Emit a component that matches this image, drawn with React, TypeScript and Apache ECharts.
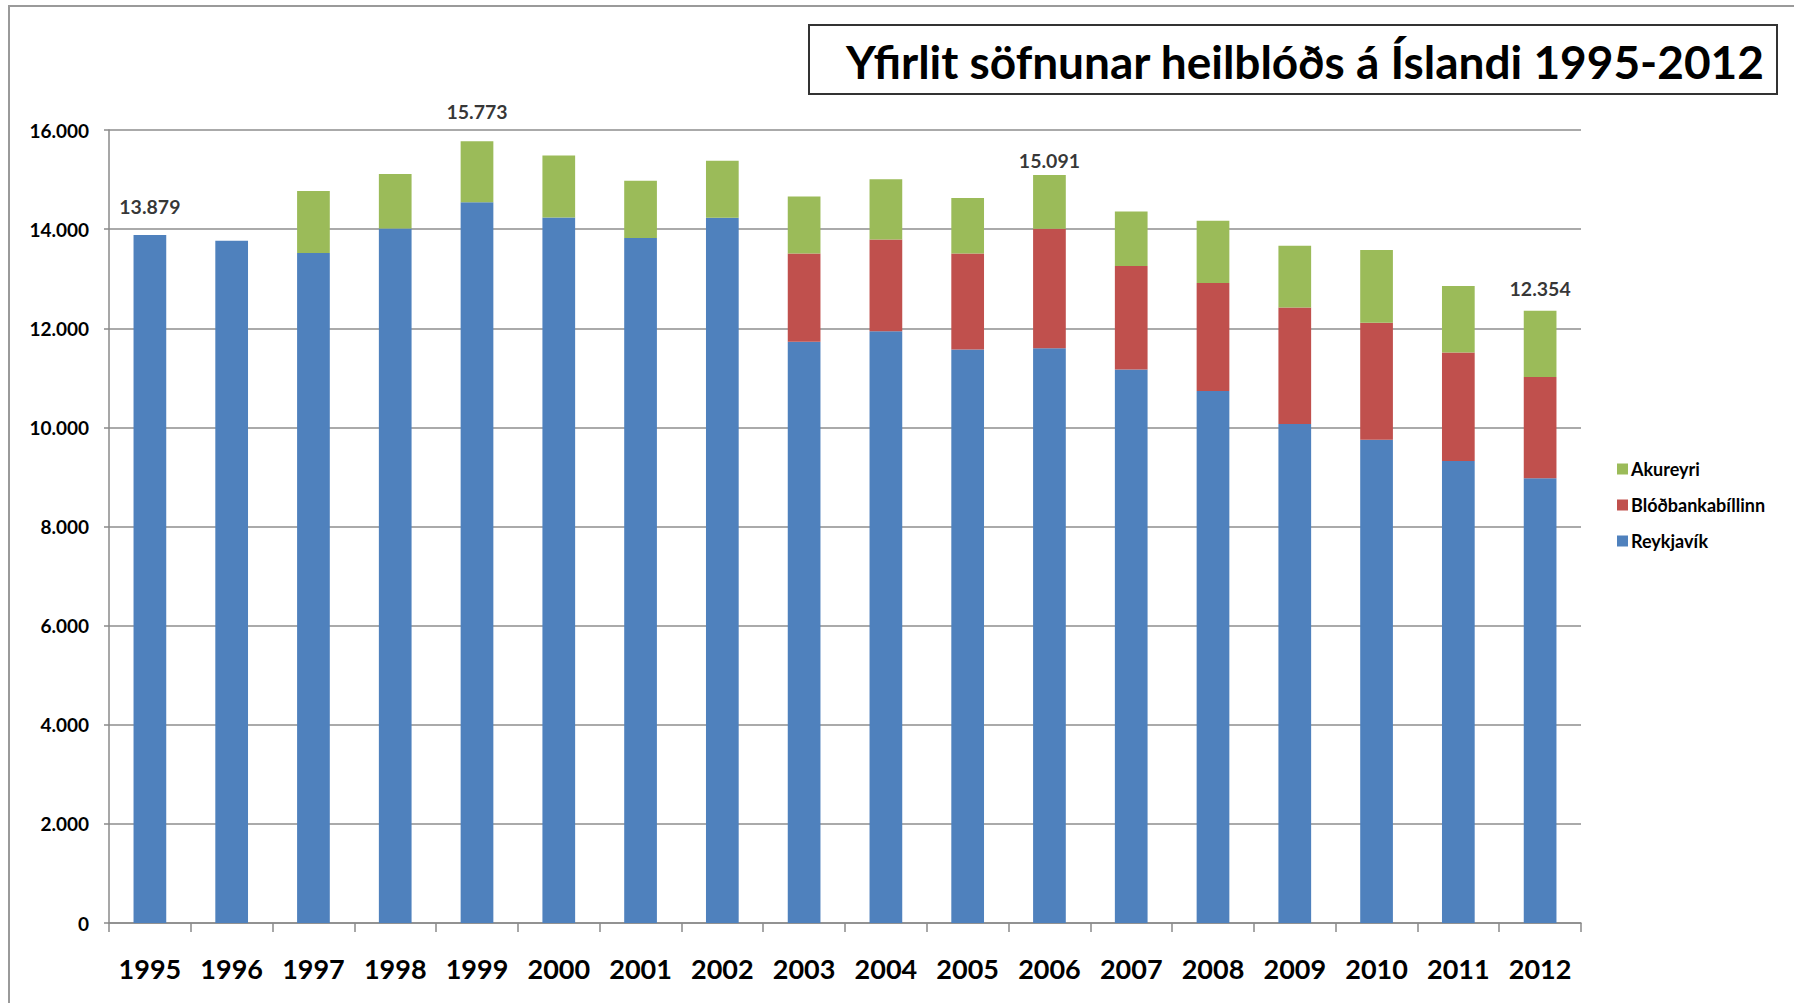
import React, { useEffect, useRef } from "react";
import * as echarts from "echarts";

const years = ["1995","1996","1997","1998","1999","2000","2001","2002","2003","2004","2005","2006","2007","2008","2009","2010","2011","2012"];
const reykjavik = [13879,13765,13517,14015,14544,14235,13819,14228,11726,11940,11571,11597,11169,10732,10068,9752,9324,8973];
const bloodbus = [0,0,0,0,0,0,0,0,1783,1851,1938,2409,2086,2181,2349,2357,2187,2041];
const akureyri = [0,0,1254,1098,1229,1248,1159,1153,1147,1216,1121,1085,1099,1254,1247,1468,1342,1340];
const labeledTotals = [13879,null,null,null,15773,null,null,null,null,null,null,15091,null,null,null,null,null,12354];
const labelDistances = [19,0,0,0,20,0,0,0,0,0,0,5,0,0,0,0,0,12];
const titleText = "Yfirlit söfnunar heilblóðs á Íslandi 1995-2012";
const FONT = "Lato, 'Open Sans', sans-serif";

const fmt = (v: number) => {
  const s = Math.round(v).toString();
  return s.replace(/\B(?=(\d{3})+(?!\d))/g, ".");
};

export default function App() {
  const ref = useRef<HTMLDivElement>(null);
  useEffect(() => {
    const chart = echarts.init(ref.current!, null, { renderer: "svg" });
    const totalsData = labeledTotals.map((v, i) =>
      v == null ? null : { value: v, label: { distance: labelDistances[i] } }
    );
    chart.setOption({
      animation: false,
      backgroundColor: "#fff",
      textStyle: { fontFamily: FONT },
      graphic: [
        {
          type: "rect",
          shape: { x: 9, y: 6, width: 1800, height: 1010 },
          style: { fill: "none", stroke: "#9a9a9a", lineWidth: 2 },
          silent: true,
        },
        {
          type: "rect",
          shape: { x: 809, y: 25, width: 968, height: 69 },
          style: { fill: "#fff", stroke: "#333", lineWidth: 2 },
          silent: true,
        },
        {
          type: "text",
          x: 1305,
          y: 61,
          style: {
            text: titleText,
            fill: "#000",
            font: `bold 46px ${FONT}`,
            textAlign: "center",
            textVerticalAlign: "middle",
          },
          silent: true,
        },
      ],
      legend: {
        data: ["Akureyri", "Blóðbankabíllinn", "Reykjavík"],
        orient: "vertical",
        left: 1612,
        top: 455,
        itemWidth: 11,
        itemHeight: 11,
        itemGap: 18,
        icon: "rect",
        textStyle: { fontFamily: FONT, fontWeight: "bold", fontSize: 18, color: "#000", padding: [0, 0, 0, -2] },
      },
      grid: { left: 109, right: 213, top: 130, bottom: 80, containLabel: false },
      xAxis: {
        type: "category",
        data: years,
        axisLine: { show: true, lineStyle: { color: "#8a8a8a", width: 1.5 } },
        axisTick: { show: true, length: 9, lineStyle: { color: "#8a8a8a", width: 1.5 } },
        axisLabel: { color: "#000", fontFamily: FONT, fontWeight: "bold", fontSize: 27, margin: 32 },
      },
      yAxis: {
        type: "value",
        min: 0,
        max: 16000,
        interval: 2000,
        axisLine: { show: true, lineStyle: { color: "#8a8a8a", width: 1.5 } },
        axisTick: { show: true, length: 5, lineStyle: { color: "#8a8a8a", width: 1.5 } },
        splitLine: { show: true, lineStyle: { color: "#8e8e8e", width: 1.5 } },
        axisLabel: { color: "#000", fontFamily: FONT, fontWeight: "bold", fontSize: 19, margin: 20, formatter: (v: number) => fmt(v) },
      },
      series: [
        { name: "Reykjavík", type: "bar", stack: "t", data: reykjavik, barWidth: "40%", itemStyle: { color: "#4F81BD" } },
        { name: "Blóðbankabíllinn", type: "bar", stack: "t", data: bloodbus, barWidth: "40%", itemStyle: { color: "#C0504D" } },
        { name: "Akureyri", type: "bar", stack: "t", data: akureyri, barWidth: "40%", itemStyle: { color: "#9BBB59" } },
        {
          name: "totals",
          type: "scatter",
          data: totalsData,
          symbolSize: 0,
          silent: true,
          label: {
            show: true,
            position: "top",
            distance: 18,
            color: "#000",
            fontFamily: FONT,
            fontWeight: "bold",
            fontSize: 19.5,
            formatter: (p: any) => fmt(p.value),
          },
          z: 10,
        },
      ],
    });
    return () => chart.dispose();
  }, []);
  return <div ref={ref} style={{ position: "absolute", left: 0, top: 0, width: 1794, height: 1003 }} />;
}
